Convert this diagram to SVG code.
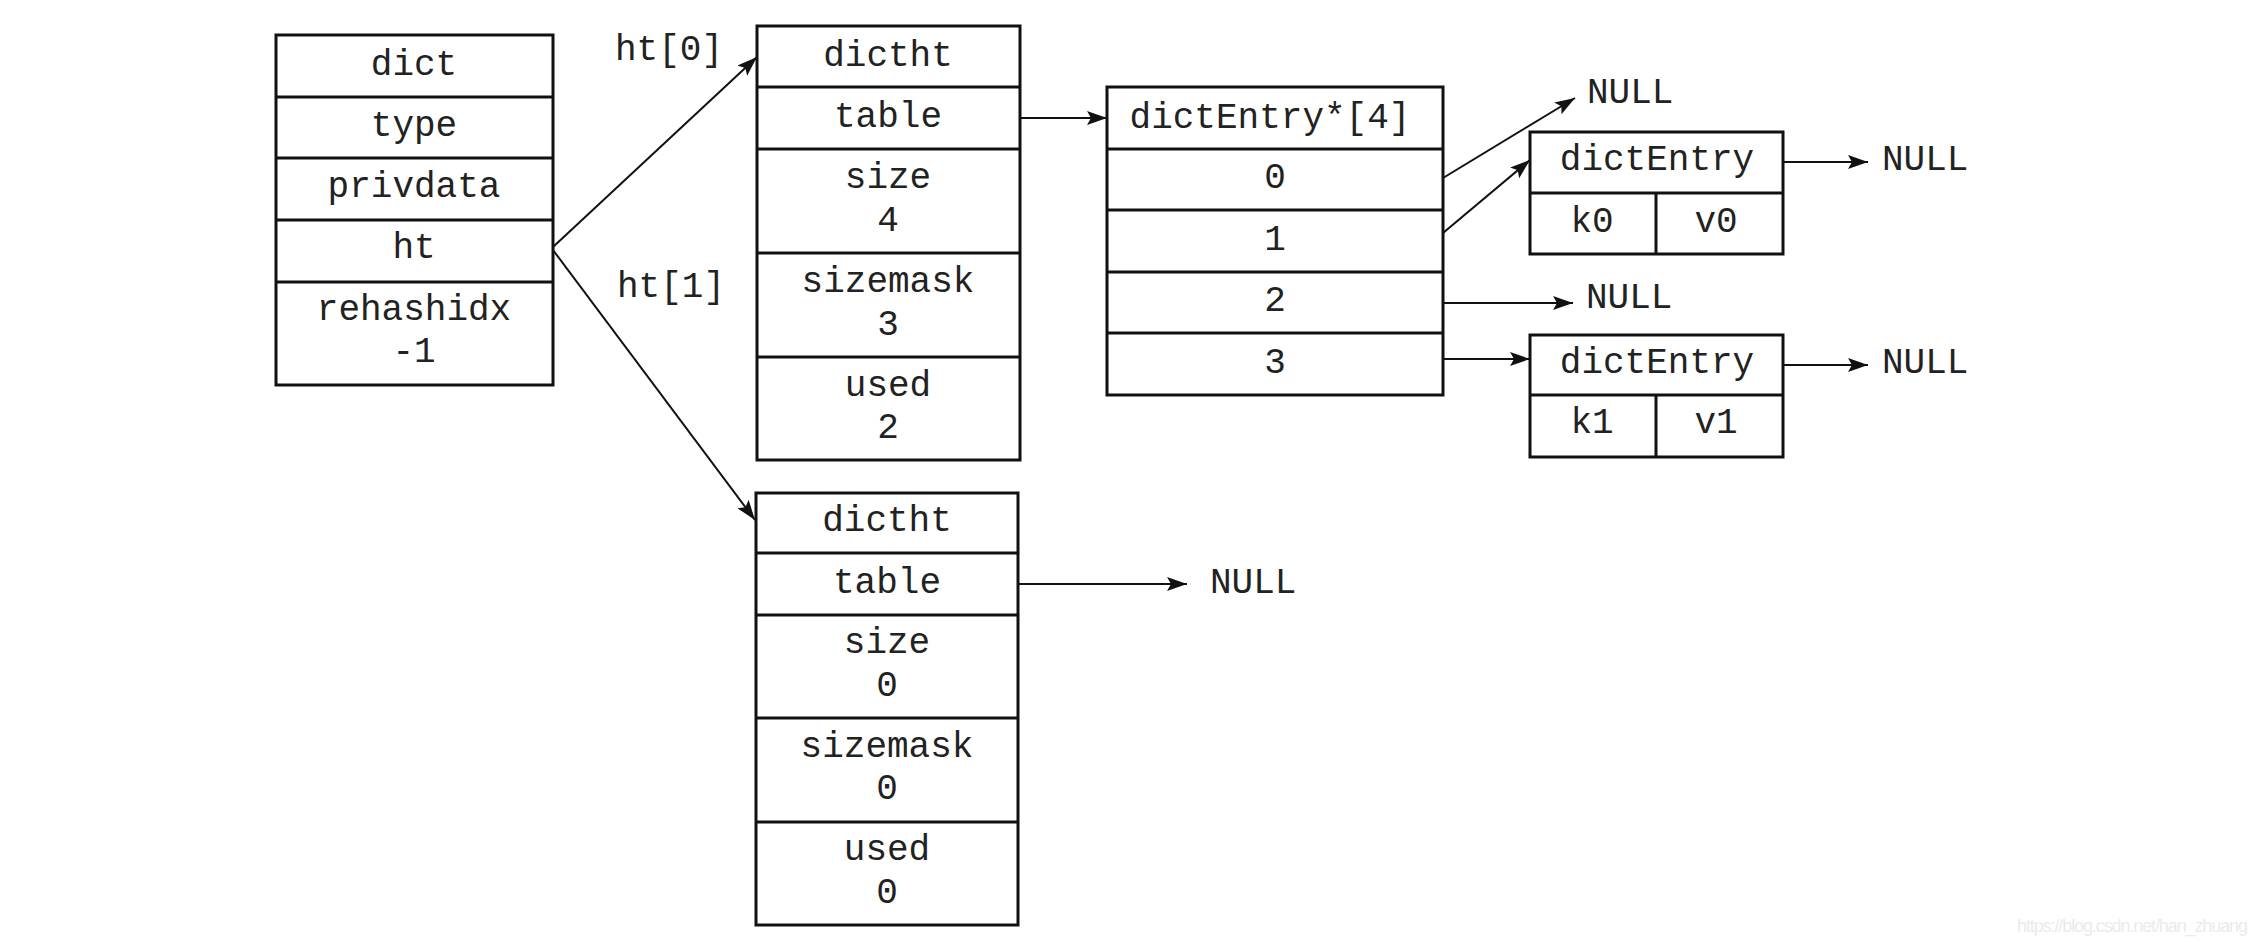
<svg xmlns="http://www.w3.org/2000/svg" width="2258" height="944" viewBox="0 0 2258 944">
<style>
.box{fill:#fff;stroke:#111;stroke-width:3}
.sep{stroke:#111;stroke-width:3;fill:none}
.t{font-family:"Liberation Mono","Courier New",monospace;font-size:36px;fill:#222;text-anchor:middle}
.ts{font-family:"Liberation Mono","Courier New",monospace;font-size:36px;fill:#222}
.c{stroke:#111;stroke-width:2;fill:none;marker-end:url(#ah)}
.wm{font-family:"Liberation Sans",Arial,sans-serif;font-size:18px;fill:#ebebeb}
</style>
<defs>
<marker id="ah" markerUnits="userSpaceOnUse" markerWidth="22" markerHeight="16" refX="20" refY="7" orient="auto">
<path d="M0,0 L20,7 L0,14 L4,7 z" fill="#111"/>
</marker>
</defs>
<rect width="2258" height="944" fill="#fff"/>

<g id="dict">
<rect class="box" x="276" y="35" width="277" height="350"/>
<path class="sep" d="M276,97H553M276,158H553M276,220H553M276,282H553"/>
<text class="t" x="414" y="75">dict</text>
<text class="t" x="414" y="136">type</text>
<text class="t" x="414" y="197">privdata</text>
<text class="t" x="414" y="258">ht</text>
<text class="t" x="414" y="320">rehashidx</text>
<text class="t" x="414" y="362">-1</text>
</g>

<g id="labels">
<text class="ts" x="615" y="60">ht[0]</text>
<text class="ts" x="617" y="297">ht[1]</text>
</g>

<g id="dictht0">
<rect class="box" x="757" y="26" width="263" height="434"/>
<path class="sep" d="M757,87H1020M757,149H1020M757,253H1020M757,357H1020"/>
<text class="t" x="888" y="66">dictht</text>
<text class="t" x="888" y="127">table</text>
<text class="t" x="888" y="188">size</text>
<text class="t" x="888" y="231">4</text>
<text class="t" x="888" y="292">sizemask</text>
<text class="t" x="888" y="335">3</text>
<text class="t" x="888" y="396">used</text>
<text class="t" x="888" y="438">2</text>
</g>

<g id="table0">
<rect class="box" x="1107" y="87" width="336" height="308"/>
<path class="sep" d="M1107,149H1443M1107,210H1443M1107,272H1443M1107,333H1443"/>
<text class="t" x="1270" y="128">dictEntry*[4]</text>
<text class="t" x="1275" y="188">0</text>
<text class="t" x="1275" y="250">1</text>
<text class="t" x="1275" y="311">2</text>
<text class="t" x="1275" y="373">3</text>
</g>

<g id="entry0">
<rect class="box" x="1530" y="132" width="253" height="122"/>
<path class="sep" d="M1530,193H1783M1656,193V254"/>
<text class="t" x="1657" y="170">dictEntry</text>
<text class="t" x="1592" y="232">k0</text>
<text class="t" x="1716" y="232">v0</text>
</g>

<g id="entry1">
<rect class="box" x="1530" y="335" width="253" height="122"/>
<path class="sep" d="M1530,395H1783M1656,395V457"/>
<text class="t" x="1657" y="373">dictEntry</text>
<text class="t" x="1592" y="433">k1</text>
<text class="t" x="1716" y="433">v1</text>
</g>

<g id="dictht1">
<rect class="box" x="756" y="493" width="262" height="432"/>
<path class="sep" d="M756,553H1018M756,615H1018M756,718H1018M756,822H1018"/>
<text class="t" x="887" y="531">dictht</text>
<text class="t" x="887" y="593">table</text>
<text class="t" x="887" y="653">size</text>
<text class="t" x="887" y="696">0</text>
<text class="t" x="887" y="757">sizemask</text>
<text class="t" x="887" y="799">0</text>
<text class="t" x="887" y="860">used</text>
<text class="t" x="887" y="903">0</text>
</g>

<g id="nulls">
<text class="ts" x="1587" y="103">NULL</text>
<text class="ts" x="1882" y="170">NULL</text>
<text class="ts" x="1586" y="308">NULL</text>
<text class="ts" x="1882" y="373">NULL</text>
<text class="ts" x="1210" y="593">NULL</text>
</g>

<g id="connectors">
<line class="c" x1="553" y1="247" x2="757" y2="57"/>
<line class="c" x1="553" y1="250" x2="755" y2="520"/>
<line class="c" x1="1020" y1="118" x2="1107" y2="118"/>
<line class="c" x1="1443" y1="178" x2="1575" y2="98"/>
<line class="c" x1="1443" y1="233" x2="1530" y2="160"/>
<line class="c" x1="1443" y1="303" x2="1573" y2="303"/>
<line class="c" x1="1443" y1="359" x2="1530" y2="359"/>
<line class="c" x1="1783" y1="162" x2="1868" y2="162"/>
<line class="c" x1="1783" y1="365" x2="1868" y2="365"/>
<line class="c" x1="1018" y1="584" x2="1187" y2="584"/>
</g>

<text class="wm" x="2017" y="932" textLength="231">https://blog.csdn.net/han_zhuang</text>
</svg>
